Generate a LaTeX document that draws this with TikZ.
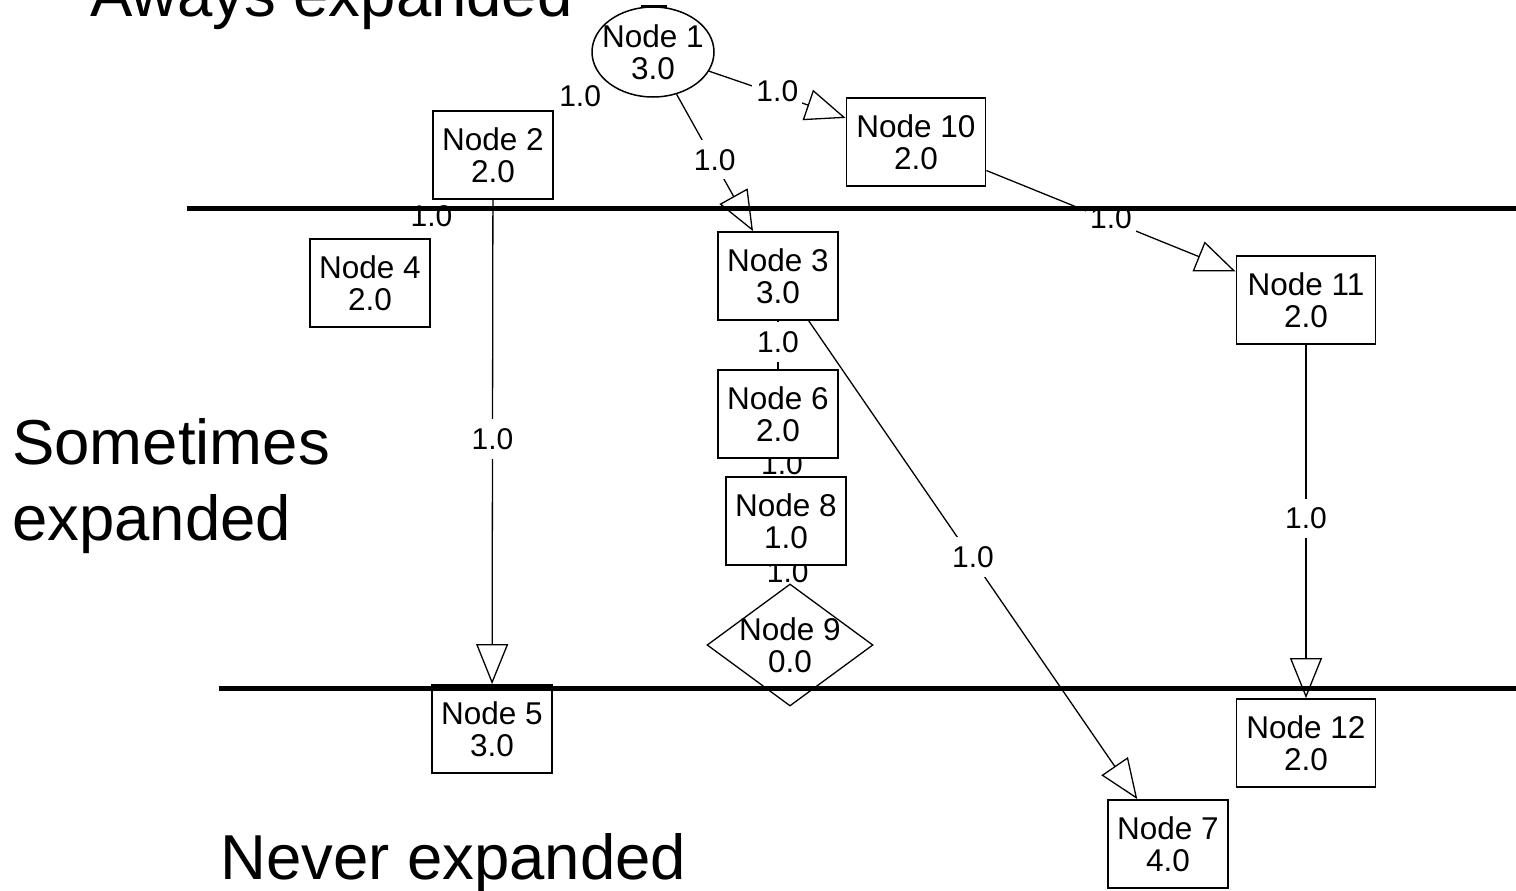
\documentclass[tikz,border=0pt]{standalone}
\usepackage{fontspec}
\setmainfont{Liberation Sans}
\usetikzlibrary{shapes.geometric,arrows.meta}
\pgfdeclarelayer{edges}
\pgfdeclarelayer{front}
\pgfsetlayers{edges,main,front}
\begin{document}
\begin{tikzpicture}[x=1pt,y=-1pt,
  nodetext/.style={font=\fontsize{31.5}{32}\selectfont,align=center},
  box/.style={nodetext,draw,fill=white,line width=1.8pt,rectangle,inner sep=0pt,
    minimum width=120pt,minimum height=88pt},
  widebox/.style={box,minimum width=139pt},
  oval/.style={draw,fill=white,line width=1.5pt,ellipse,inner sep=0pt,
    minimum width=122pt,minimum height=90pt},
  rhomb/.style={draw,fill=white,line width=1.3pt,diamond,inner sep=0pt,
    minimum width=166pt,minimum height=122pt},
  edge/.style={line width=1.3pt},
  arr/.style={edge,-{Triangle[length=40pt,width=32pt,fill=white]}},
  lbl/.style={fill=white,inner xsep=4pt,inner ysep=9pt,yshift=3pt,
    font=\fontsize{30}{30}\selectfont},
  band/.style={line width=5pt},
  zone/.style={inner sep=0pt,font=\fontsize{63.5}{76}\selectfont,align=left}
]
\useasboundingbox (0,0) rectangle (1516,891);

% zone captions
\node[zone,anchor=base west] (capA) at (90,17) {Aways expanded};
\node[zone,anchor=north west] (capS) at (12,418) {Sometimes\\expanded};
\node[zone,anchor=base west] (capN) at (220,879) {Never expanded};

% graph nodes
\node[oval,label={[nodetext]center:{Node 1\\3.0}}] (n1) at (653,52) {};
\node[box] (n2) at (493,155) {Node 2\\2.0};
\node[widebox] (n10) at (916,142) {Node 10\\2.0};
\node[box] (n3) at (778,276) {Node 3\\3.0};
\node[box] (n4) at (370,283) {Node 4\\2.0};
\node[widebox] (n11) at (1306,300) {Node 11\\2.0};
\node[box] (n6) at (778,414) {Node 6\\2.0};
\node[box] (n8) at (786,521) {Node 8\\1.0};
\node[rhomb,label={[nodetext]center:{Node 9\\0.0}}] (n9) at (790,645) {};
\node[box] (n5) at (492,729) {Node 5\\3.0};
\node[widebox] (n12) at (1306,743) {Node 12\\2.0};
\node[box] (n7) at (1168,844) {Node 7\\4.0};

% weighted connectors
\begin{pgfonlayer}{edges}
\draw[arr] (n1) -- node[lbl] {1.0} (n10);
\draw[arr] (n1) -- node[lbl] {1.0} (n3);
\draw[arr] (n10) -- node[lbl] {1.0} (n11);
\draw[arr] (n2) -- node[lbl] {1.0} (n5);
\draw[arr] (n3) -- node[lbl] {1.0} (n7);
\draw[arr] (n11) -- node[lbl] {1.0} (n12);
\draw[edge] (n3) -- node[lbl] {1.0} (n6);
\draw[edge] (n6) -- node[lbl] {1.0} (n8);
\draw[edge] (n8) -- node[lbl] {1.0} (n9);
\path (n1) -- node[lbl] {1.0} (n2);
\path (n2) -- node[lbl] {1.0} (n4);
\end{pgfonlayer}

% zone separators
\begin{pgfonlayer}{front}
\draw[band] (187,208) -- (1516,208);
\draw[band] (219,688) -- (1516,688);
\draw[line width=3pt] (641,7) -- (667,7);
\end{pgfonlayer}
\end{tikzpicture}
\end{document}
